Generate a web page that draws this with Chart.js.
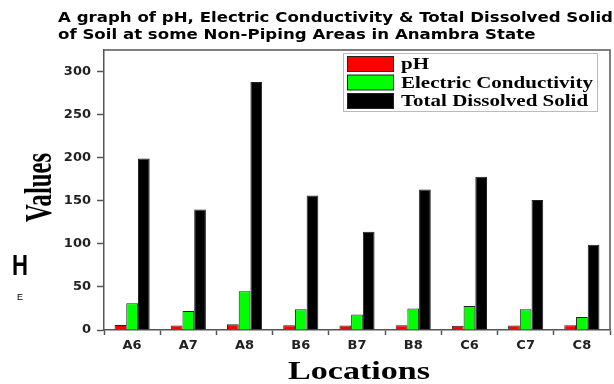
<!DOCTYPE html>
<html>
<head>
<meta charset="utf-8">
<script src="https://cdn.jsdelivr.net/npm/chart.js@4/dist/chart.umd.min.js"></script>
<style>
  html, body { margin: 0; padding: 0; background: #fff; }
  #wrap { width: 614px; height: 384px; }
</style>
</head>
<body>
<div id="wrap"><canvas id="chart" width="614" height="384"></canvas></div>
<script>
// data
const locations = ["A6", "A7", "A8", "B6", "B7", "B8", "C6", "C7", "C8"];
const phValues  = [5.8, 5.1, 6.6, 5.4, 5.2, 5.4, 4.9, 5.3, 5.5];
const ecValues  = [31, 22, 45, 24, 18, 25, 28, 24, 15];
const tdsValues = [199, 140, 288, 156, 114, 163, 178, 151, 99];
const yTicks    = [0, 50, 100, 150, 200, 250, 300];

const titleLines = [
  "A graph of pH, Electric Conductivity & Total Dissolved Solid",
  "of Soil at some Non-Piping Areas in Anambra State"
];

const AXIS_COLOR = "#555";

// draws text squeezed/stretched to a given width
function stretchText(ctx, text, x, y, width, sy) {
  const w = ctx.measureText(text).width;
  ctx.save();
  ctx.translate(x, y);
  ctx.scale(width / w, sy || 1);
  ctx.fillText(text, 0, 0);
  ctx.restore();
}

const decor = {
  id: "decor",
  afterDraw(chart) {
    const ctx = chart.ctx;
    const a = chart.chartArea;

    // top + right frame
    ctx.save();
    ctx.strokeStyle = AXIS_COLOR;
    ctx.lineWidth = 1.5;
    ctx.beginPath();
    ctx.moveTo(a.left, a.top);
    ctx.lineTo(a.right, a.top);
    ctx.lineTo(a.right, a.bottom);
    ctx.stroke();
    ctx.restore();

    // title
    ctx.save();
    ctx.fillStyle = "#000";
    ctx.textBaseline = "alphabetic";
    ctx.font = "bold 14px 'DejaVu Sans'";
    const sx = 555 / ctx.measureText(titleLines[0]).width;
    stretchText(ctx, titleLines[0], 58, 22, ctx.measureText(titleLines[0]).width * sx);
    stretchText(ctx, titleLines[1], 58, 38.5, ctx.measureText(titleLines[1]).width * sx);
    ctx.restore();

    // legend box
    ctx.save();
    ctx.fillStyle = "#fff";
    ctx.fillRect(343, 53, 254, 58);
    ctx.strokeStyle = "#bbb";
    ctx.lineWidth = 1;
    ctx.strokeRect(343.5, 53.5, 254, 58);
    const rows = [64, 82.5, 101];
    ctx.font = "bold 15px 'Liberation Serif'";
    ctx.textBaseline = "middle";
    chart.data.datasets.forEach((ds, i) => {
      const cy = rows[i];
      ctx.fillStyle = ds.backgroundColor;
      ctx.fillRect(347, cy - 7.5, 46, 15);
      ctx.strokeStyle = "#222";
      ctx.strokeRect(347.5, cy - 7.5, 46, 15);
      ctx.fillStyle = "#000";
      const w = ctx.measureText(ds.label).width * 1.4;
      stretchText(ctx, ds.label, 401, cy + 1, w, 1.05);
    });
    ctx.restore();

    // axis titles
    ctx.save();
    ctx.fillStyle = "#000";
    ctx.font = "bold 24px 'Liberation Serif'";
    ctx.textAlign = "left";
    ctx.textBaseline = "alphabetic";
    stretchText(ctx, "Locations", 288, 379, 142, 1.05);

    ctx.translate(51, 222);
    ctx.rotate(-Math.PI / 2);
    const vw = ctx.measureText("Values").width;
    ctx.scale(69 / vw, 1.55);
    ctx.fillText("Values", 0, 0);
    ctx.restore();

    // stray letters at the left margin
    ctx.save();
    ctx.fillStyle = "#000";
    ctx.font = "bold 30px 'Liberation Sans'";
    stretchText(ctx, "H", 12, 275, 16);
    ctx.font = "9px 'Liberation Sans'";
    ctx.fillText("E", 17, 300);
    ctx.restore();
  }
};

new Chart(document.getElementById("chart"), {
  type: "bar",
  data: {
    labels: locations,
    datasets: [
      { label: "pH", data: phValues, backgroundColor: "#ff0000" },
      { label: "Electric Conductivity", data: ecValues, backgroundColor: "#00ff00" },
      { label: "Total Dissolved Solid", data: tdsValues, backgroundColor: "#000000" }
    ].map(ds => Object.assign(ds, {
      borderColor: "#222",
      borderWidth: 1,
      categoryPercentage: 0.625,
      barPercentage: 1
    }))
  },
  options: {
    responsive: false,
    animation: false,
    layout: { padding: { top: 50, right: 4, left: 0, bottom: 0 } },
    plugins: {
      legend: { display: false },
      tooltip: { enabled: false }
    },
    scales: {
      x: {
        afterFit: s => { s.height = 54; },
        border: { display: true, color: AXIS_COLOR, width: 1.5 },
        grid: { drawOnChartArea: false, drawTicks: true, tickLength: 5, color: AXIS_COLOR, tickWidth: 1.5 },
        ticks: { color: "#222", padding: 3, font: { family: "'DejaVu Sans'", weight: "bold", size: 13 } }
      },
      y: {
        min: 0,
        max: 325,
        afterFit: s => { s.width = 104; },
        afterBuildTicks: s => { s.ticks = yTicks.map(v => ({ value: v })); },
        border: { display: true, color: AXIS_COLOR, width: 1.5 },
        grid: { drawOnChartArea: false, drawTicks: true, tickLength: 7, color: AXIS_COLOR, tickWidth: 1.5 },
        ticks: { color: "#222", padding: 6, font: { family: "'DejaVu Sans'", weight: "bold", size: 13 } }
      }
    }
  },
  plugins: [decor]
});
</script>
</body>
</html>
